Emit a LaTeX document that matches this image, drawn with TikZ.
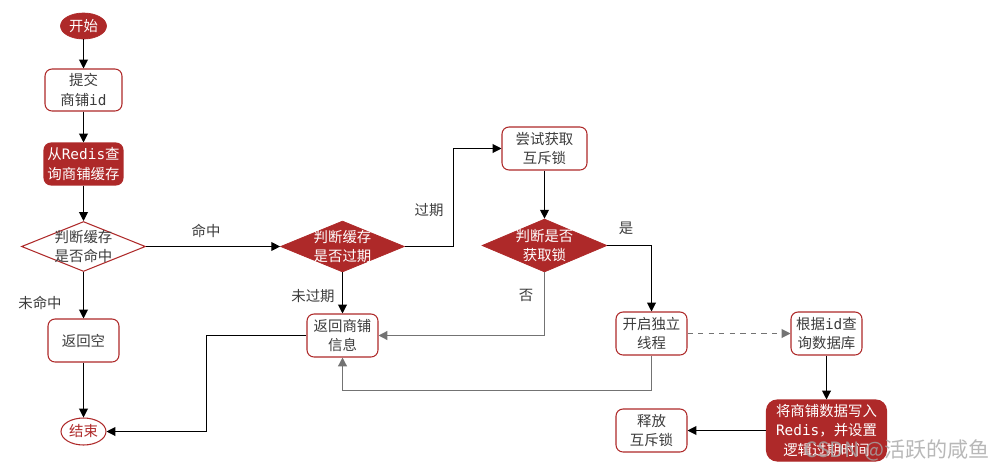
\documentclass[tikz,border=0pt]{standalone}
\usepackage{fontspec}
\setmainfont{Noto Sans CJK SC}
\setmonofont{DejaVu Sans Mono}
\usetikzlibrary{shapes.geometric,arrows.meta}
\definecolor{dred}{RGB}{174,41,41}
\definecolor{txt}{RGB}{60,60,60}
\definecolor{gline}{RGB}{115,115,115}
\tikzset{
  base/.style={font=\fontsize{8.2}{11}\selectfont, align=center, inner sep=0pt},
  box/.style={base, draw=dred, fill=white, text=txt, rounded corners=4pt, line width=0.6pt, minimum width=1.42cm, minimum height=0.86cm},
  fbox/.style={base, draw=dred, fill=dred, text=white, rounded corners=4pt, line width=0.6pt, minimum width=1.58cm, minimum height=0.84cm},
  fdia/.style={diamond, aspect=2.45, draw=dred, fill=dred, minimum width=2.48cm, minimum height=1.02cm, inner sep=0pt},
  wdia/.style={diamond, aspect=2.45, draw=dred, fill=white, minimum width=2.48cm, minimum height=1.0cm, inner sep=0pt, line width=0.6pt},
  lbl/.style={base, text=txt},
  wtxt/.style={base, text=white},
  arr/.style={-{Triangle[length=5pt,width=5pt]}, line width=0.6pt, black},
  garr/.style={-{Triangle[length=5pt,width=5pt]}, line width=0.8pt, gline},
}
\begin{document}
\begin{tikzpicture}[x=0.02cm,y=-0.02cm]
\useasboundingbox (0,0) rectangle (1000,470);
\node[base, ellipse, fill=dred, draw=dred, text=white, minimum width=0.92cm, minimum height=0.52cm] (start) at (83.5,26) {开始};
\node[box, minimum width=1.54cm, minimum height=0.84cm] (submit) at (83.5,90) {提交\\商铺\texttt{id}};
\node[fbox] (query) at (83.5,164) {从\texttt{Redis}查\\询商铺缓存};
\node[wdia] (hit) at (83.5,246.5) {};
\node[lbl] (hitt) at (hit) {判断缓存\\是否命中};
\node[box] (empty) at (83.5,340.5) {返回空};
\node[base, ellipse, draw=dred, fill=white, text=dred, line width=0.6pt, minimum width=0.9cm, minimum height=0.54cm] (end) at (83.5,431.5) {结束};
\node[fdia] (exp) at (342.5,246.5) {};
\node[wtxt] (expt) at (exp) {判断缓存\\是否过期};
\node[box] (ret) at (342.5,335.5) {返回商铺\\信息};
\node[box, minimum width=1.7cm] (try) at (544.5,148.5) {尝试获取\\互斥锁};
\node[fdia, minimum width=2.5cm, minimum height=1.06cm] (lock) at (544.5,245.5) {};
\node[wtxt] (lockt) at (lock) {判断是否\\获取锁};
\node[box] (thread) at (651.5,333.5) {开启独立\\线程};
\node[box] (db) at (826.5,333.5) {根据\texttt{id}查\\询数据库};
\node[fbox, minimum width=2.4cm, minimum height=1.22cm, rounded corners=6pt] (write) at (826.5,430.5) {将商铺数据写入\\\texttt{Redis}，并设置\\逻辑过期时间};
\node[box] (rel) at (651.5,430.5) {释放\\互斥锁};

\node[lbl] (l1) at (206,231) {命中};
\node[lbl] (l2) at (40,303) {未命中};
\node[lbl] (l3) at (313,296) {未过期};
\node[lbl] (l4) at (429,210) {过期};
\node[lbl] (l5) at (626,228) {是};
\node[lbl] (l6) at (526,295) {否};

\draw[arr] (start) -- (submit);
\draw[arr] (submit) -- (query);
\draw[arr] (query) -- (hit);
\draw[arr] (hit.east) -- (exp.west);
\draw[arr] (hit.south) -- (empty.north);
\draw[arr] (empty) -- (end);
\draw[arr] (exp.south) -- (ret.north);
\draw[arr] (exp.east) -- (453.5,246.5) |- (try.west);
\draw[arr] (try) -- (lock);
\draw[garr] (lock.south) |- (ret.east);
\draw[arr] (lock.east) -| (thread.north);
\draw[garr] (thread.south) -- (651.5,390.5) -| (ret.south);
\draw[arr] (ret.west) -- (206.5,335.5) |- (end.east);
\draw[-{Triangle[length=5pt,width=5pt]}, gline, dashed, line width=0.6pt] (thread.east) -- (db.west);
\draw[arr] (db) -- (write);
\draw[arr] (write.west) -- (rel.east);

\node[base, font=\fontsize{12}{14}\selectfont, text=gray!70, opacity=0.8] (wm) at (897,450) {CSDN @活跃的咸鱼};
\end{tikzpicture}
\end{document}
